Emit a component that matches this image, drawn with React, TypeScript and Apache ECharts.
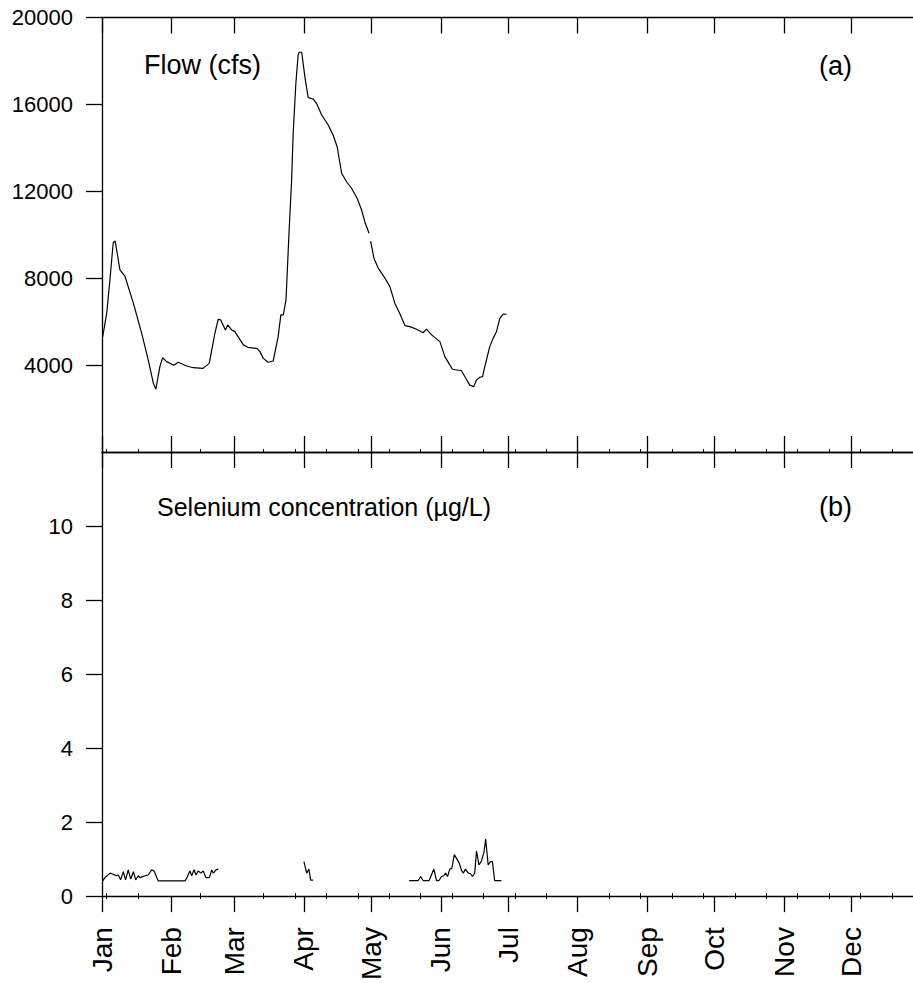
import React, { useEffect, useRef } from "react";
import * as echarts from "echarts";

// Day of year (0 = Jan 1) and flow in cfs (panel a)
const flowDay = [0.3, 2.1, 3.6, 5, 5.9, 7, 8, 10.2, 14, 17.7, 20.6, 22.9, 24, 25.8, 27, 28.8, 32, 34, 37.7, 40.7, 45, 47.8, 50.3, 51.8, 52.9, 55, 56, 57.8, 59.2, 63, 65, 69, 70.4, 71.9, 74, 76.3, 78.5, 79.7, 80.8, 82, 83.4, 84.5, 85.2, 86.4, 87.4, 87.9, 89, 90.4, 91.9, 94.1, 95.6, 97.9, 100.8, 103, 104.8, 106.8, 109, 111.2, 113.7, 115.7, 117.1, 119, 119.4, 119.7, 121.2, 123.1, 126.1, 128.3, 130.5, 132.7, 135, 137.2, 140.2, 143.1, 144.6, 146.9, 150.6, 152.8, 155, 156.2, 160.2, 162.4, 163.9, 165.7, 166.9, 168.4, 169.6, 170.6, 172.8, 174.3, 175.8, 177.3, 178.8, 180.3];
const flowCfs = [5300, 6380, 8000, 9630, 9710, 9000, 8380, 8100, 6840, 5460, 4240, 3160, 2890, 3930, 4340, 4160, 3990, 4130, 3960, 3880, 3850, 4080, 5460, 6110, 6080, 5620, 5850, 5620, 5540, 4930, 4820, 4770, 4620, 4310, 4130, 4190, 5310, 6310, 6310, 7000, 10220, 12500, 14670, 16970, 18270, 18400, 18400, 17280, 16310, 16250, 16050, 15510, 15050, 14590, 14050, 12830, 12440, 12140, 11680, 11140, 10600, 10070, null, 9710, 8920, 8460, 8000, 7610, 6850, 6380, 5820, 5770, 5650, 5490, 5660, 5390, 5080, 4390, 4010, 3810, 3740, 3350, 3080, 3010, 3310, 3440, 3470, 3930, 4850, 5230, 5540, 6150, 6350, 6340];

// Day of year and selenium concentration in µg/L (panel b)
const seDay = [0.3, 1.3, 3.6, 5, 6.2, 7.3, 8.3, 9.5, 10.5, 11.7, 12.8, 14, 15, 16.2, 16.9, 19.2, 20.6, 22.1, 23.2, 24.4, 25.1, 37, 37.7, 39.2, 40, 41, 41.9, 42.9, 44.1, 45.1, 46.3, 47.8, 48.9, 49.6, 50.8, 51.8, 70, 90, 91.2, 92.2, 93, 94.1, 115, 136.9, 140.9, 142, 143.1, 145.8, 147.9, 149.1, 150.2, 151.3, 152.3, 153.1, 154, 155, 155.9, 157, 158, 159.2, 160.2, 161, 162, 163.2, 164.2, 165.1, 166.1, 166.9, 168, 169.1, 170.2, 171, 172.1, 173.1, 174, 175, 178];
const seConc = [0.41, 0.5, 0.62, 0.59, 0.55, 0.57, 0.44, 0.66, 0.44, 0.71, 0.46, 0.66, 0.44, 0.55, 0.5, 0.55, 0.57, 0.71, 0.68, 0.5, 0.41, 0.41, 0.48, 0.68, 0.55, 0.71, 0.57, 0.68, 0.62, 0.68, 0.5, 0.5, 0.71, 0.62, 0.71, 0.73, null, 0.93, 0.62, 0.73, 0.43, 0.43, null, 0.42, 0.42, 0.53, 0.42, 0.42, 0.73, 0.42, 0.42, 0.53, 0.55, 0.62, 0.53, 0.73, 0.75, 1.12, 1.02, 0.89, 0.7, 0.62, 0.73, 0.62, 0.61, 0.53, 0.62, 1.22, 0.84, 0.95, 1.18, 1.54, 0.84, 0.93, 0.93, 0.42, 0.42];

const monthNames = ["Jan", "Feb", "Mar", "Apr", "May", "Jun", "Jul", "Aug", "Sep", "Oct", "Nov", "Dec"];
const monthStartDays = [0, 31, 59, 90, 120, 151, 181, 212, 243, 273, 304, 334];
const minorDays = [2, 16, 44, 72, 86, 100, 114, 128, 142, 156, 170, 184, 198, 226, 240, 254, 268, 282, 296, 310, 324, 338, 352];
const flowTicks = [4000, 8000, 12000, 16000, 20000];
const seTicks = [0, 2, 4, 6, 8, 10];

const FONT = "'Liberation Sans', Arial, Helvetica, sans-serif";
const BLACK = "#000";

function xAxisBase(gridIndex: number, position: string, opts: any) {
  return {
    type: "value",
    gridIndex,
    position,
    min: 0,
    max: 365,
    axisLine: { show: true, onZero: false, lineStyle: { color: BLACK, width: 1.3 } },
    splitLine: { show: false },
    ...opts,
  };
}

export default function App() {
  const ref = useRef<HTMLDivElement>(null);
  useEffect(() => {
    if (!ref.current) return;
    const chart = echarts.init(ref.current, null, { renderer: "svg" });
    const flowData = flowDay.map((d, i) => [d, flowCfs[i]]);
    const seData = seDay.map((d, i) => [d, seConc[i]]);
    const majorTick = (inside: boolean) => ({
      show: true,
      inside,
      length: 16,
      customValues: monthStartDays,
      lineStyle: { color: BLACK, width: 1.3 },
    });
    const minorTick = (inside: boolean) => ({
      show: true,
      inside,
      length: 3,
      customValues: minorDays,
      lineStyle: { color: BLACK, width: 1 },
    });
    const plain = (v: number) => String(Math.round(v));
    const option: any = {
      animation: false,
      backgroundColor: "#fff",
      grid: [
        { left: 102, top: 17.5, width: 819, height: 434.5 },
        { left: 102, top: 452, width: 819, height: 445 },
      ],
      xAxis: [
        xAxisBase(0, "top", { axisTick: majorTick(true), axisLabel: { show: false } }),
        xAxisBase(0, "bottom", { axisTick: majorTick(true), axisLabel: { show: false } }),
        xAxisBase(1, "top", { axisTick: majorTick(true), axisLabel: { show: false } }),
        xAxisBase(1, "bottom", {
          axisTick: majorTick(false),
          axisLabel: {
            show: true,
            customValues: monthStartDays,
            rotate: 90,
            margin: 31,
            fontSize: 28,
            fontFamily: FONT,
            color: BLACK,
            formatter: (v: number) => {
              const i = monthStartDays.indexOf(Math.round(v));
              return i >= 0 ? monthNames[i] : "";
            },
          },
        }),
        xAxisBase(0, "bottom", { axisLine: { show: false }, axisTick: minorTick(true), axisLabel: { show: false } }),
        xAxisBase(1, "top", { axisLine: { show: false }, axisTick: minorTick(true), axisLabel: { show: false } }),
        xAxisBase(1, "bottom", { axisLine: { show: false }, axisTick: minorTick(true), axisLabel: { show: false } }),
      ],
      yAxis: [
        {
          type: "value",
          gridIndex: 0,
          min: 0,
          max: 20000,
          interval: 4000,
          axisLine: { show: true, onZero: false, lineStyle: { color: BLACK, width: 1.3 } },
          axisTick: { show: true, inside: false, length: 16, customValues: flowTicks, lineStyle: { color: BLACK, width: 1.3 } },
          axisLabel: { show: true, customValues: flowTicks, margin: 29, fontSize: 22, fontFamily: FONT, color: BLACK, formatter: plain },
          splitLine: { show: false },
        },
        {
          type: "value",
          gridIndex: 1,
          min: 0,
          max: 12,
          interval: 2,
          axisLine: { show: true, onZero: false, lineStyle: { color: BLACK, width: 1.3 } },
          axisTick: { show: true, inside: false, length: 16, customValues: seTicks, lineStyle: { color: BLACK, width: 1.3 } },
          axisLabel: { show: true, customValues: seTicks, margin: 29, fontSize: 22, fontFamily: FONT, color: BLACK, formatter: plain },
          splitLine: { show: false },
        },
      ],
      series: [
        {
          type: "line",
          xAxisIndex: 1,
          yAxisIndex: 0,
          data: flowData,
          showSymbol: false,
          connectNulls: false,
          lineStyle: { color: BLACK, width: 1.2 },
          silent: true,
        },
        {
          type: "line",
          xAxisIndex: 3,
          yAxisIndex: 1,
          data: seData,
          showSymbol: false,
          connectNulls: false,
          lineStyle: { color: BLACK, width: 1.2 },
          silent: true,
        },
      ],
      graphic: [
        { type: "text", x: 144, y: 65, style: { text: "Flow (cfs)", fontSize: 27, fontFamily: FONT, fill: BLACK, verticalAlign: "middle" } },
        { type: "text", x: 819, y: 66, style: { text: "(a)", fontSize: 27, fontFamily: FONT, fill: BLACK, verticalAlign: "middle" } },
        { type: "text", x: 157, y: 507, style: { text: "Selenium concentration (µg/L)", fontSize: 25, fontFamily: FONT, fill: BLACK, verticalAlign: "middle" } },
        { type: "text", x: 819, y: 507, style: { text: "(b)", fontSize: 27, fontFamily: FONT, fill: BLACK, verticalAlign: "middle" } },
      ],
    };
    chart.setOption(option);
    return () => chart.dispose();
  }, []);
  return (
    <div style={{ position: "fixed", left: 0, top: 0, width: 913, height: 983, overflow: "hidden", background: "#fff" }}>
      <div ref={ref} style={{ width: 940, height: 983 }} />
    </div>
  );
}
